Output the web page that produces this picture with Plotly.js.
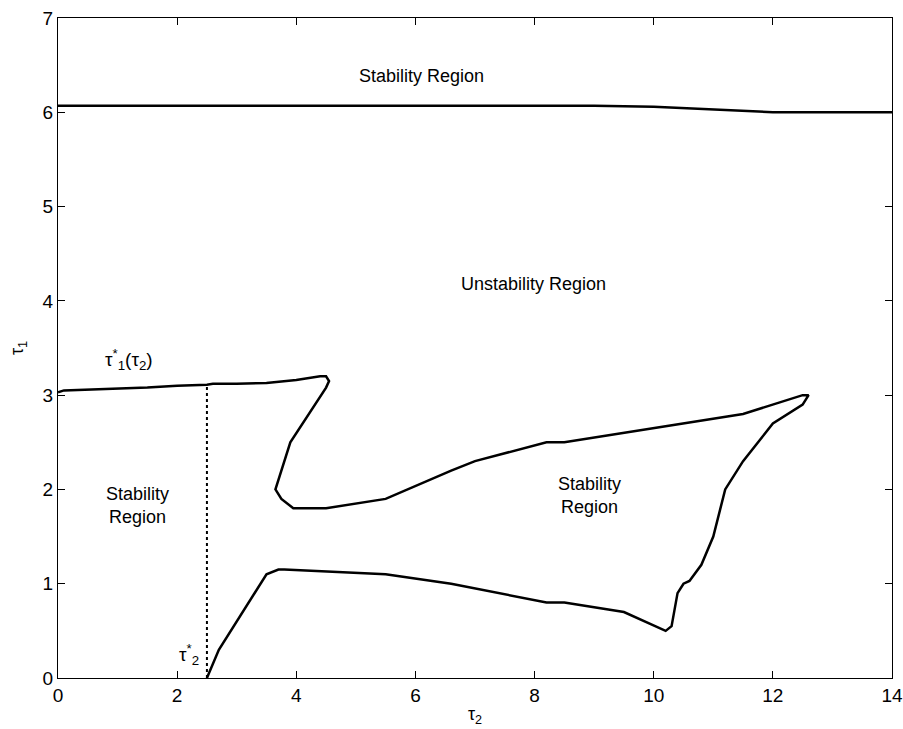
<!DOCTYPE html>
<html>
<head>
<meta charset="utf-8">
<script src="https://cdn.plot.ly/plotly-3.0.1.min.js"></script>
<style>html,body{margin:0;padding:0;background:#fff;}#chart{width:903px;height:729px;}</style>
</head>
<body>
<div id="chart"></div>
<script>
// Upper stability boundary
const topX = [0, 2, 4, 6, 8, 9, 10, 11, 12, 13, 14];
const topY = [6.07, 6.07, 6.07, 6.07, 6.07, 6.07, 6.06, 6.03, 6.0, 6.0, 6.0];

// Critical curve tau1*(tau2), traced as one path
const curveX = [0, 0.1, 1.5, 2.0, 2.5, 2.6, 3.0, 3.5, 4.0, 4.4, 4.5, 4.55, 4.5, 3.9, 3.65, 3.75, 3.95, 4.5, 5.5, 6.6, 7.0, 8.2, 8.5, 11.5, 12.5, 12.6, 12.5, 12.0, 11.5, 11.2, 11.0, 10.8, 10.6, 10.5, 10.4, 10.3, 10.2, 9.5, 8.5, 8.2, 6.6, 5.5, 3.8, 3.7, 3.5, 2.7, 2.5];
const curveY = [3.03, 3.05, 3.08, 3.1, 3.11, 3.12, 3.12, 3.13, 3.16, 3.2, 3.2, 3.15, 3.08, 2.5, 2.0, 1.9, 1.8, 1.8, 1.9, 2.2, 2.3, 2.5, 2.5, 2.8, 3.0, 3.0, 2.9, 2.7, 2.3, 2.0, 1.5, 1.2, 1.03, 1.0, 0.9, 0.55, 0.5, 0.7, 0.8, 0.8, 1.0, 1.1, 1.15, 1.15, 1.1, 0.3, 0.0];

// Critical delay tau2*
const tau2StarX = [2.5, 2.5];
const tau2StarY = [0, 3.11];

const xTicks = [0, 2, 4, 6, 8, 10, 12, 14];
const yTicks = [0, 1, 2, 3, 4, 5, 6, 7];

const font = {family: 'Liberation Sans, Arial, Helvetica, sans-serif', color: '#000'};
const narrow = {family: 'Liberation Sans Narrow, Arial Narrow, Liberation Sans, sans-serif', color: '#000'};
const f = (base, size) => Object.assign({size: size}, base);

const traces = [
  {x: topX, y: topY, mode: 'lines', line: {color: '#000', width: 2.5}, hoverinfo: 'skip'},
  {x: curveX, y: curveY, mode: 'lines', line: {color: '#000', width: 2.5}, hoverinfo: 'skip'},
  {x: tau2StarX, y: tau2StarY, mode: 'lines', line: {color: '#000', width: 2, dash: 'dot'}, hoverinfo: 'skip'}
];

const axisCommon = {
  showgrid: false, zeroline: false, showline: true, linecolor: '#000', linewidth: 1,
  mirror: 'ticks', ticks: 'inside', ticklen: 7, tickcolor: '#000',
  tickfont: f(narrow, 19)
};

const layout = {
  width: 903, height: 729,
  margin: {l: 58, r: 11, t: 18, b: 51},
  paper_bgcolor: '#fff', plot_bgcolor: '#fff',
  showlegend: false,
  font: font,
  xaxis: Object.assign({}, axisCommon, {
    range: [0, 14], tickvals: xTicks, ticktext: xTicks.map(String),
    title: {text: 'τ<sub>2</sub>', font: f(font, 18), standoff: 2}
  }),
  yaxis: Object.assign({}, axisCommon, {
    range: [0, 7], tickvals: yTicks, ticktext: yTicks.map(String),
    title: {text: 'τ<sub>1</sub>', font: f(font, 18), standoff: 14}
  }),
  annotations: [
    {x: 6.11, y: 6.38, text: 'Stability Region', showarrow: false, font: f(font, 18)},
    {x: 7.99, y: 4.18, text: 'Unstability Region', showarrow: false, font: f(font, 18)},
    {x: 1.33, y: 1.83, text: 'Stability<br>Region', showarrow: false, font: f(font, 18)},
    {x: 8.93, y: 1.94, text: 'Stability<br>Region', showarrow: false, font: f(font, 18)},
    {x: 1.2, y: 3.38, text: 'τ<sup>*</sup><sub>1</sub>(τ<sub>2</sub>)', showarrow: false, font: f(font, 19)},
    {x: 2.2, y: 0.25, text: 'τ<sup>*</sup><sub>2</sub>', showarrow: false, font: f(font, 19)}
  ]
};

Plotly.newPlot('chart', traces, layout, {displayModeBar: false, staticPlot: true});
</script>
</body>
</html>
